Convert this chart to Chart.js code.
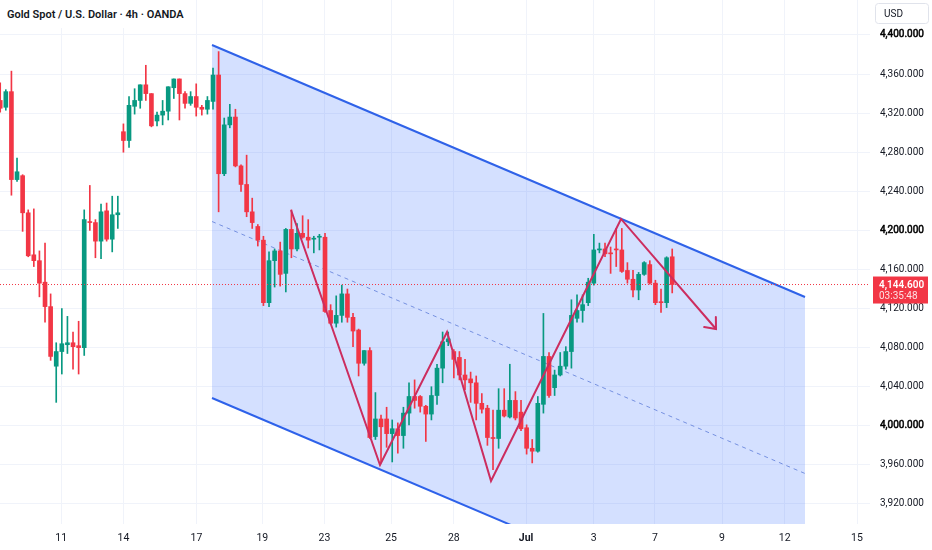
<!DOCTYPE html>
<html>
<head>
<meta charset="utf-8">
<script src="https://cdn.jsdelivr.net/npm/chart.js@4.4.1/dist/chart.umd.min.js"></script>
<style>
  html, body { margin: 0; padding: 0; background: #fff; }
  #wrap { position: relative; width: 932px; height: 550px; }
  #title { position: absolute; left: 0; top: 0; padding: 8px 10px 7px 7px; background: #fff;
           font: 600 11px Roboto, sans-serif; color: #131722; white-space: nowrap; }
</style>
</head>
<body>
<div id="wrap">
  <canvas id="goldChart" width="932" height="550"></canvas>
  <div id="title">Gold Spot / U.S. Dollar · 4h · OANDA</div>
</div>
<script>
// 4h candles, one per index
const opens = [4333,4326,4342,4252,4256,4218,4175,4169,4147,4122,
  4061,4076,4083,4085,4082,4080,4209,4208,4189,4220,
  4191,4216,4301,4292,4327,4333,4349,4340,4312,4318,
  4322,4346,4355,4340,4330,4337,4326,4324,4332,4359,
  4258,4308,4316,4266,4247,4219,4204,4190,4126,4169,
  4179,4156,4201,4181,4197,4193,4191,4193,4193,4118,
  4105,4113,4135,4111,4098,4064,4077,3989,4007,4007,
  3992,3997,3990,4013,4030,4030,4020,4012,4031,4059,
  4086,4076,4070,4052,4048,4044,4023,4018,3988,3987,
  4016,4009,4026,4014,3998,3977,3974,4022,4071,4039,
  4052,4061,4076,4110,4118,4126,4146,4180,4181,4177,
  4181,4180,4159,4150,4139,4155,4165,4146,4127,4126,
  4173];
const highs = [4351,4344,4363,4274,4257,4221,4222,4179,4187,4135,
  4085,4120,4112,4096,4107,4221,4246,4211,4227,4228,
  4235,4235,4309,4337,4345,4349,4369,4340,4321,4333,
  4347,4355,4355,4342,4342,4350,4328,4337,4366,4383,
  4315,4329,4324,4267,4277,4233,4206,4194,4178,4181,
  4188,4202,4221,4207,4215,4211,4194,4196,4197,4124,
  4133,4144,4140,4115,4099,4077,4080,4034,4011,4019,
  4006,4003,4019,4044,4047,4031,4021,4040,4063,4096,
  4096,4078,4076,4068,4055,4051,4033,4021,4016,4038,
  4038,4063,4035,4026,4001,3986,4030,4115,4075,4057,
  4075,4081,4129,4134,4134,4151,4196,4187,4187,4183,
  4202,4202,4167,4159,4157,4168,4169,4149,4140,4173,
  4181];
const lows = [4321,4323,4236,4250,4199,4173,4163,4132,4106,4067,
  4024,4053,4074,4058,4053,4072,4200,4172,4171,4189,
  4178,4202,4280,4285,4319,4325,4333,4306,4307,4308,
  4313,4335,4313,4325,4328,4317,4318,4319,4324,4219,
  4256,4305,4265,4240,4214,4202,4184,4123,4122,4142,
  4143,4137,4172,4179,4192,4182,4177,4180,4116,4104,
  4101,4106,4106,4081,4051,4062,3987,3986,3962,3978,
  3963,3972,3977,4001,4018,4014,3984,4006,4022,4044,
  4082,4049,4047,4037,4024,4006,4013,3980,3955,3977,
  4009,4008,4006,3995,3971,3962,3973,4013,4029,4031,
  4051,4058,4059,4106,4106,4123,4144,4177,4173,4156,
  4163,4157,4146,4132,4129,4154,4145,4124,4116,4121,
  4136];
const closes = [4325,4342,4252,4260,4218,4174,4169,4146,4122,4071,
  4076,4084,4085,4081,4080,4211,4208,4189,4219,4191,
  4216,4218,4292,4328,4333,4349,4340,4307,4318,4322,
  4347,4355,4340,4330,4337,4326,4324,4333,4359,4258,
  4308,4316,4266,4247,4219,4208,4190,4126,4169,4179,
  4155,4201,4181,4197,4193,4190,4192,4194,4117,4105,
  4113,4135,4111,4097,4064,4077,3988,4007,3999,3992,
  3997,3990,4013,4030,4026,4020,4012,4031,4059,4086,
  4089,4068,4052,4047,4044,4023,4017,3988,3987,4016,
  4010,4026,4008,3997,3977,3974,4023,4071,4031,4052,
  4061,4076,4113,4118,4124,4147,4180,4181,4176,4176,
  4180,4158,4150,4139,4155,4167,4146,4126,4126,4172,
  4144.6];
const lastPrice = 4144.6;
const countdown = '03:35:48';

// time axis: candle index where each day label sits
const dayTicks = [10.9, 22, 35.05, 46.8, 57.9, 69.8, 81, 93.9, 106, 116.9, 128.9, 140.1, 153];
const dayLabels = ['11', '14', '17', '19', '23', '25', '28', 'Jul', '3', '7', '9', '12', '15'];
const priceTicks = [3920, 3960, 4000, 4040, 4080, 4120, 4160, 4200, 4240, 4280, 4320, 4360, 4400];

// drawings: descending channel and the zigzag path
const channelX = [37.82, 143.71];
const channelUpper = [4389.7, 4131.8];
const channelLower = [4028.5, 3770.5];
const channelMid = [4209.1, 3951.2];
const zigzagX = [51.93, 67.82, 79.79, 87.64, 110.86, 127.82];
const zigzagY = [4220.9, 3959.9, 4096.0, 3943.5, 4211.7, 4099.1];

const xMin = -0.04, xMax = 155.32;
const yMin = 3899.5, yMax = 4435.8;

const UP = '#089981', DOWN = '#f23645';
const candleColors = opens.map((o, i) => closes[i] >= o ? UP : DOWN);
const wicks = opens.map((o, i) => ({ x: i, y: [lows[i], highs[i]] }));
const bodies = opens.map((o, i) => ({ x: i, y: [o, closes[i]] }));
const pts = (xs, ys) => xs.map((x, i) => ({ x: x, y: ys[i] }));

const FONT = 'Roboto, "Noto Sans", sans-serif';
const isRound = (c) => c.tick && c.tick.value % 200 === 0;

const overlay = {
  id: 'overlay',
  afterDatasetsDraw(chart) {
    // arrow head at the end of the zigzag
    const { ctx, scales: { x, y } } = chart;
    const n = zigzagX.length;
    const x1 = x.getPixelForValue(zigzagX[n - 2]), y1 = y.getPixelForValue(zigzagY[n - 2]);
    const x2 = x.getPixelForValue(zigzagX[n - 1]), y2 = y.getPixelForValue(zigzagY[n - 1]);
    const ang = Math.atan2(y2 - y1, x2 - x1) + Math.PI;
    ctx.save();
    ctx.strokeStyle = '#cc2d5f';
    ctx.lineWidth = 2;
    ctx.lineCap = 'round';
    ctx.beginPath();
    ctx.moveTo(x2 + 12 * Math.cos(ang - 0.7), y2 + 12 * Math.sin(ang - 0.7));
    ctx.lineTo(x2, y2);
    ctx.lineTo(x2 + 12 * Math.cos(ang + 0.7), y2 + 12 * Math.sin(ang + 0.7));
    ctx.stroke();
    ctx.restore();
  },
  afterDraw(chart) {
    const { ctx, chartArea, scales: { y } } = chart;
    const py = y.getPixelForValue(lastPrice);
    const left = chartArea.right + 3, w = chart.width - left - 4;
    ctx.save();
    // last price tag
    ctx.fillStyle = DOWN;
    ctx.fillRect(left, py - 8, w, 27);
    ctx.textBaseline = 'middle';
    ctx.textAlign = 'left';
    ctx.font = '600 10px ' + FONT;
    ctx.fillStyle = '#ffffff';
    ctx.fillText(lastPrice.toLocaleString('en-US', { minimumFractionDigits: 3 }), left + 6, py + 0.5);
    ctx.font = '10px ' + FONT;
    ctx.fillStyle = 'rgba(255,255,255,0.85)';
    ctx.fillText(countdown, left + 6, py + 12);
    // currency box
    ctx.strokeStyle = '#e0e3eb';
    ctx.lineWidth = 1;
    ctx.beginPath();
    ctx.roundRect(875.5, 3.5, 53, 20, 3);
    ctx.stroke();
    ctx.fillStyle = '#131722';
    ctx.font = '10px ' + FONT;
    ctx.fillText('USD', 884, 14);
    ctx.restore();
  }
};

const ctx = document.getElementById('goldChart');
const goldChart = new Chart(ctx, {
  type: 'bar',
  data: {
    datasets: [
      {
        type: 'line', label: 'upper', order: 6,
        data: pts(channelX, channelUpper),
        borderColor: '#2f62e8', borderWidth: 2, pointRadius: 0,
        backgroundColor: 'rgba(41,98,255,0.2)', fill: 1
      },
      {
        type: 'line', label: 'lower', order: 6,
        data: pts(channelX, channelLower),
        borderColor: '#2f62e8', borderWidth: 2, pointRadius: 0, fill: false
      },
      {
        type: 'line', label: 'mid', order: 5,
        data: pts(channelX, channelMid),
        borderColor: '#7590e0', borderWidth: 1, borderDash: [4, 4], pointRadius: 0, fill: false
      },
      {
        label: 'wicks', order: 3,
        data: wicks, backgroundColor: candleColors,
        barThickness: 1, grouped: false, borderWidth: 0
      },
      {
        label: 'bodies', order: 2,
        data: bodies, backgroundColor: candleColors,
        barThickness: 4, grouped: false, borderWidth: 0, minBarLength: 1
      },
      {
        type: 'line', label: 'last', order: 1,
        data: [{ x: xMin, y: lastPrice }, { x: xMax, y: lastPrice }],
        borderColor: DOWN, borderWidth: 1, borderDash: [1, 2], pointRadius: 0, fill: false
      },
      {
        type: 'line', label: 'zigzag', order: 0,
        data: pts(zigzagX, zigzagY),
        borderColor: '#cc2d5f', borderWidth: 2, pointRadius: 0, fill: false
      }
    ]
  },
  options: {
    responsive: false,
    animation: false,
    layout: { padding: 0 },
    plugins: { legend: { display: false }, tooltip: { enabled: false } },
    scales: {
      x: {
        type: 'linear', min: xMin, max: xMax, offset: false,
        grid: { color: '#f0f3fa', drawTicks: false, offset: false },
        border: { display: false },
        afterBuildTicks: (scale) => { scale.ticks = dayTicks.map(v => ({ value: v })); },
        afterFit: (scale) => { scale.height = 26; scale.paddingLeft = 0; scale.paddingRight = 0; },
        ticks: {
          autoSkip: false, maxRotation: 0, padding: 8, color: '#131722',
          callback: (v) => dayLabels[dayTicks.indexOf(v)],
          font: (c) => ({ family: FONT, size: 10.5,
            weight: c.tick && dayLabels[dayTicks.indexOf(c.tick.value)] === 'Jul' ? 'bold' : 'normal' })
        }
      },
      y: {
        position: 'right', min: yMin, max: yMax,
        grid: { color: '#f0f3fa', drawTicks: false },
        border: { display: false },
        afterBuildTicks: (scale) => { scale.ticks = priceTicks.map(v => ({ value: v })); },
        afterFit: (scale) => { scale.width = 62; scale.paddingTop = 0; scale.paddingBottom = 0; },
        ticks: {
          padding: 10,
          font: { family: FONT, size: 10 },
          color: (c) => isRound(c) ? '#000000' : '#131722',
          textStrokeColor: '#000000',
          textStrokeWidth: (c) => isRound(c) ? 0.5 : 0,
          callback: (v) => v.toLocaleString('en-US', { minimumFractionDigits: 3 })
        }
      }
    }
  },
  plugins: [overlay]
});
</script>
</body>
</html>
